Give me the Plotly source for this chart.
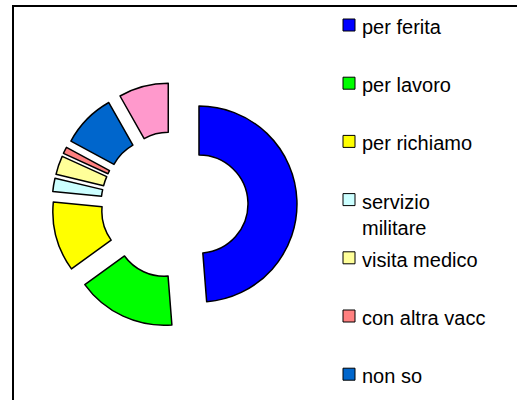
import plotly.graph_objects as go

# Motivo della vaccinazione (percentuali)
labels = ["per ferita", "per lavoro", "per richiamo", "servizio<br>militare",
          "visita medico", "con altra vacc", "non so", "altro"]
values = [48.8, 16.3, 11.5, 2.2, 3.1, 1.1, 8.9, 8.2]
colors = ["#0000FF", "#00FF00", "#FFFF00", "#CCFFFF",
          "#FFFF99", "#FF8080", "#0066CC", "#FF99CC"]

W, H = 517, 400


def px(x):
    return x / W


def py(y):
    return 1 - y / H


# doughnut: centre and size of the pie domain, in pixels
cx, cy, size = 174.5, 205.0, 245.0

fig = go.Figure(go.Pie(
    labels=labels,
    values=values,
    marker=dict(colors=colors, line=dict(color="black", width=1.5)),
    hole=0.5,
    pull=[0.25] * len(values),
    sort=False,
    direction="clockwise",
    rotation=0,
    textinfo="none",
    hoverinfo="label+percent",
    showlegend=False,
    domain=dict(x=[px(cx - size / 2), px(cx + size / 2)],
                y=[py(cy + size / 2), py(cy - size / 2)]),
))

shapes = [
    # chart area border (continues past the right and bottom edges)
    dict(type="rect", xref="paper", yref="paper",
         x0=px(13), x1=px(540), y0=py(6), y1=py(430),
         line=dict(color="black", width=2), fillcolor="rgba(0,0,0,0)"),
]
annotations = []

fs = 20
row0, step = 34.0, 58.2
for i, (lab, col) in enumerate(zip(labels, colors)):
    base = row0 + step * i
    if base > H:
        break  # remaining legend rows fall below the visible area
    shapes.append(dict(type="rect", xref="paper", yref="paper",
                       x0=px(343), x1=px(355), y0=py(base - 3), y1=py(base - 15),
                       line=dict(color="black", width=1), fillcolor=col))
    annotations.append(dict(xref="paper", yref="paper", x=px(360), y=py(base - 20),
                            xanchor="left", yanchor="top", align="left",
                            text=lab, showarrow=False,
                            font=dict(family="Liberation Sans, Arial", size=fs, color="black")))

fig.update_layout(
    width=W, height=H,
    margin=dict(l=0, r=0, t=0, b=0),
    paper_bgcolor="white",
    plot_bgcolor="white",
    shapes=shapes,
    annotations=annotations,
)

fig.write_html("out.html")
